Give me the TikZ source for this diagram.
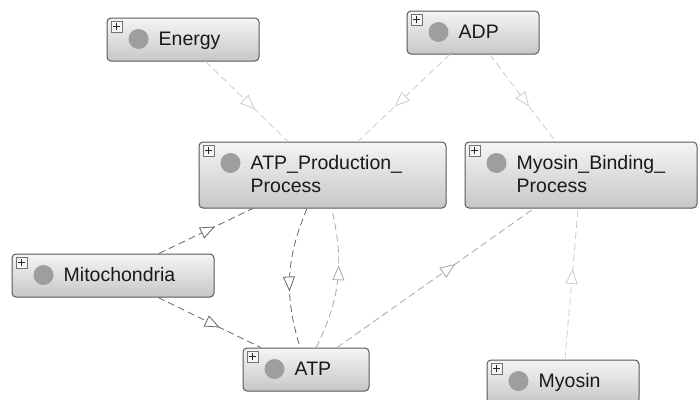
\documentclass[tikz,border=0pt]{standalone}
\usepackage{fontspec}
\setmainfont{Liberation Sans}
\usetikzlibrary{arrows.meta,decorations.markings}

\tikzset{
  concept/.style={draw=black!65, line width=1pt, rounded corners=4pt,
    top color=black!4, bottom color=black!22, inner sep=0pt},
  expander/.style={draw=black!55, fill=black!4, minimum size=11pt,
    inner sep=0pt, line width=0.6pt, anchor=north west,
    path picture={\draw[line width=1.4pt, black!85]
      ([xshift=-3.2pt]path picture bounding box.center) -- ([xshift=3.2pt]path picture bounding box.center)
      ([yshift=-3.2pt]path picture bounding box.center) -- ([yshift=3.2pt]path picture bounding box.center);}},
  dotgray/.style={fill=black!38},
  conceptlabel/.style={anchor=base west, inner sep=0pt,
    font=\fontsize{19.5}{23}\selectfont, text=black!90},
  rel/.style={dash pattern=on 7pt off 4pt, line width=0.8pt,
    postaction={decorate},
    decoration={markings, mark=at position 0.6 with
      {\arrow{Triangle[length=15pt,width=12pt,fill=white]}}}},
  edgelight/.style={draw=black!20},
  edgemid/.style={draw=black!35},
  edgedark/.style={draw=black!60},
}

% name, centre x, centre y, width, height, label (lines split by \\)
\newcommand\conceptbox[6]{%
  \node[concept, minimum width=#4pt, minimum height=#5pt] (#1) at (#2,#3) {};
  \node[expander] at ([shift={(4,3)}]#1.north west) {};
  \fill[dotgray] ([shift={(32,21.5)}]#1.north west) circle (10pt);
  \node[conceptlabel] at ([shift={(52,28)}]#1.north west)
    {\begin{tabular}[t]{@{}l@{}}#6\end{tabular}};
}

\begin{document}
\begin{tikzpicture}[x=1pt,y=-1pt]
  \useasboundingbox (0,0) rectangle (698,399);
  \clip (0,0) rectangle (698,399);

  \conceptbox{energy}{183}{39.5}{152}{43}{Energy}
  \conceptbox{adp}{473}{32.5}{132}{43}{ADP}
  \conceptbox{atpprod}{322.5}{175}{247}{66}{ATP\_Production\_\\Process}
  \conceptbox{myobind}{581}{175}{232}{66}{Myosin\_Binding\_\\Process}
  \conceptbox{mito}{113}{275.5}{202}{43}{Mitochondria}
  \conceptbox{atp}{306}{369.5}{126}{43}{ATP}
  \conceptbox{myosin}{563}{381.5}{152}{43}{Myosin}

  \draw[rel, edgelight] (energy) -- (atpprod);
  \draw[rel, edgelight] (adp) -- (atpprod);
  \draw[rel, edgelight] (adp) -- (myobind);
  \draw[rel, edgedark] (mito) -- (atpprod);
  \draw[rel, edgedark] (mito) -- (atp);
  \draw[rel, edgedark] (atpprod) to[bend right=20] (atp);
  \draw[rel, edgemid] (atp) to[bend right=20] (atpprod);
  \draw[rel, edgemid] (atp) -- (myobind);
  \draw[rel, edgelight] (myosin) -- (myobind);
\end{tikzpicture}
\end{document}
